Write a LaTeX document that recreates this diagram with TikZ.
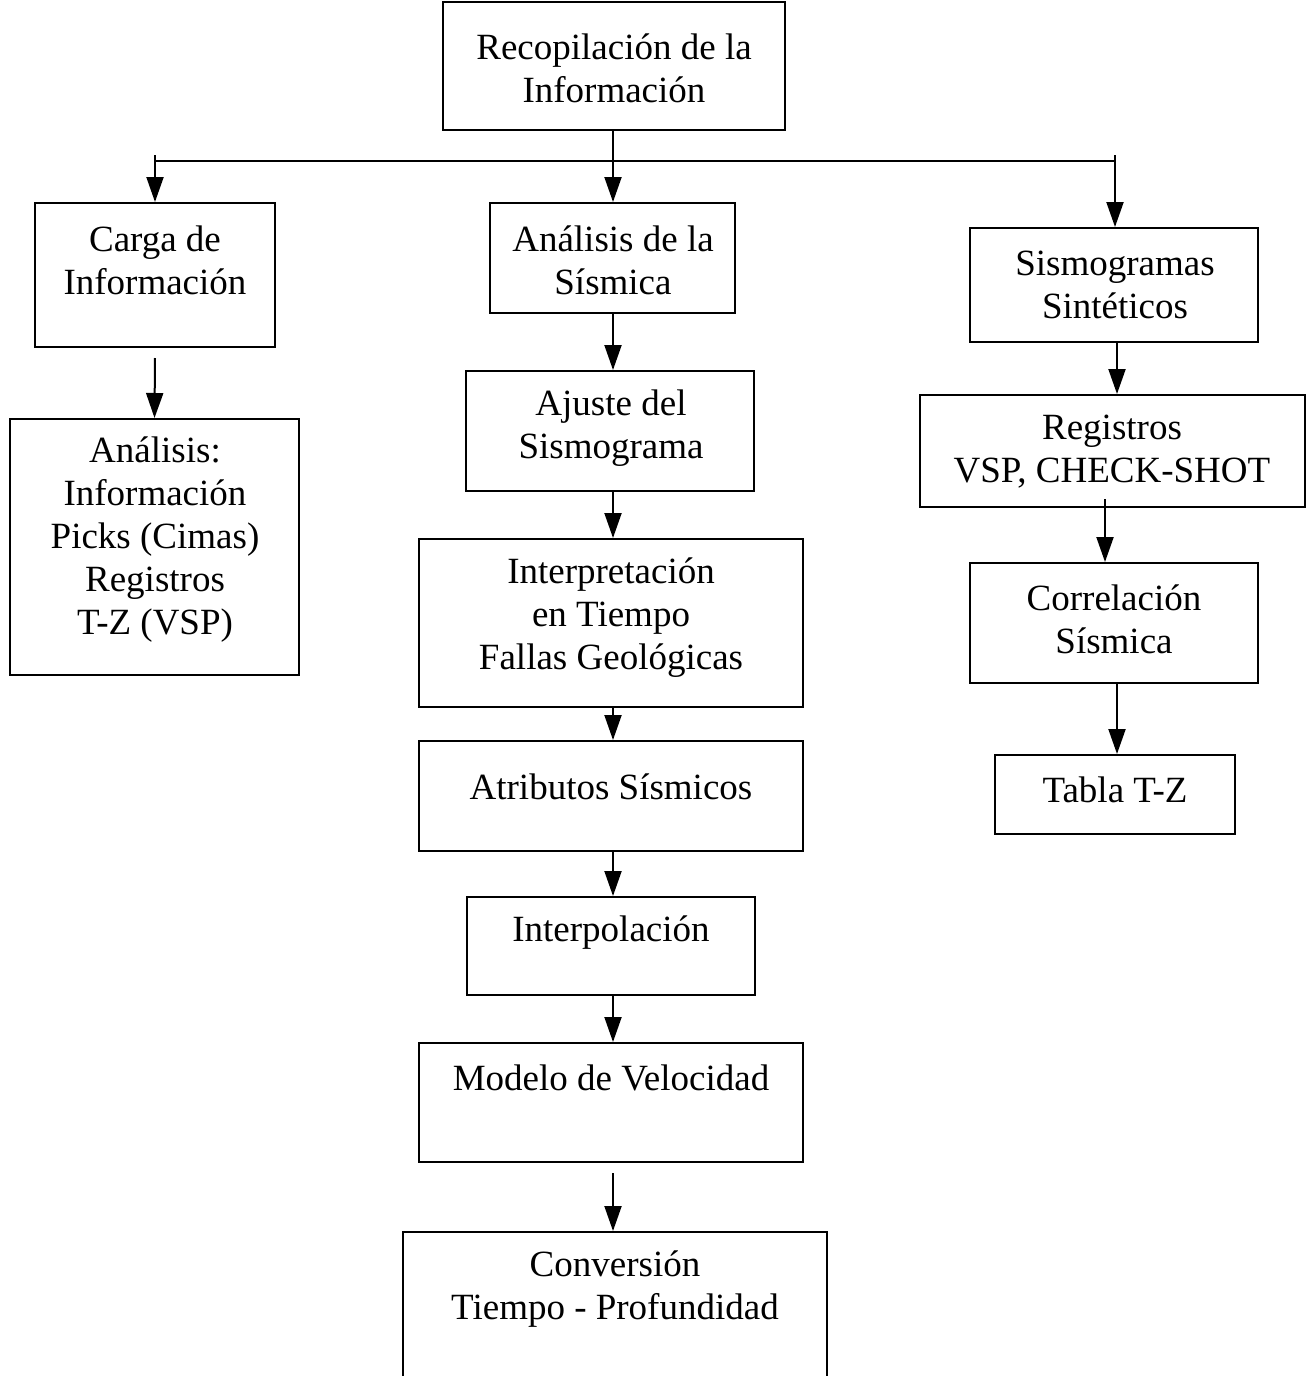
\documentclass[tikz,border=0pt]{standalone}
\usepackage{fontspec}
\setmainfont{Liberation Serif}
\usetikzlibrary{arrows.meta}
\begin{document}
\begin{tikzpicture}[x=0.5pt,y=-0.5pt,
  box/.style 2 args={draw, line width=1pt, inner sep=0pt,
    minimum width=#1*0.5pt, minimum height=#2*0.5pt},
  txt/.style={align=center, inner sep=0pt,
    font=\fontsize{18.5}{21.5}\selectfont},
  arr/.style={line width=1pt, -{Triangle[width=8.5pt,length=12.5pt]}},
  ln/.style={line width=1pt}]
\useasboundingbox (0,0) rectangle (1309,1376);

% boxes
\node[box={342}{128}] (top) at (614,66) {};
\node[box={240}{144}] (carga) at (155,275) {};
\node[box={245}{110}] (sis) at (612.5,258) {};
\node[box={288}{114}] (sint) at (1114,285) {};
\node[box={289}{256}] (anal) at (154.5,547) {};
\node[box={288}{120}] (ajuste) at (610,431) {};
\node[box={384}{168}] (interp) at (611,623) {};
\node[box={385}{112}] (reg) at (1112.5,451) {};
\node[box={288}{120}] (corr) at (1114,623) {};
\node[box={240}{79}] (tabla) at (1115,794.5) {};
\node[box={384}{110}] (atrib) at (611,796) {};
\node[box={288}{98}] (interpol) at (611,946) {};
\node[box={384}{119}] (modelo) at (611,1102.5) {};
\node[box={424}{148}] (conv) at (615,1306) {};

% texts
\node[txt] (top-t) at (614,68) {Recopilación de la\\Información};
\node[txt] (carga-t) at (155,260) {Carga de\\Información};
\node[txt] (sis-t) at (613,260) {Análisis de la\\Sísmica};
\node[txt] (sint-t) at (1115,285) {Sismogramas\\Sintéticos};
\node[txt] (anal-t) at (155,540) {Análisis:\\Información\\Picks (Cimas)\\Registros\\T-Z (VSP)};
\node[txt] (ajuste-t) at (611,428) {Ajuste del\\Sismograma};
\node[txt] (interp-t) at (611,618) {Interpretación\\en Tiempo\\Fallas Geológicas};
\node[txt] (reg-t) at (1112,452) {Registros\\VSP, CHECK-SHOT};
\node[txt] (corr-t) at (1114,619) {Correlación\\Sísmica};
\node[txt] (tabla-t) at (1115,790) {Tabla T-Z};
\node[txt] (atrib-t) at (611,787) {Atributos Sísmicos};
\node[txt] (interpol-t) at (611,933) {Interpolación};
\node[txt] (modelo-t) at (611,1078) {Modelo de Velocidad};
\node[txt] (conv-t) at (615,1289) {Conversión\\Tiempo - Profundidad};

% distribution bus
\coordinate (bl) at (155,155);
\coordinate (br) at (1115,155);
\coordinate (jl) at (155,161);
\coordinate (jr) at (1115,161);
\draw[ln] (jl) -- (jr);
\draw[arr] (bl) -- (bl |- carga.north);
\draw[arr] (br) -- (br |- sint.north);
\draw[arr] (top.south -| 613,0) -- (sis.north -| 613,0);

% left column
\draw[arr] ([yshift=-5pt]carga.south) -- (anal.north);

% middle column
\draw[arr] (sis.south -| 613,0) -- (ajuste.north -| 613,0);
\draw[arr] (ajuste.south -| 613,0) -- (interp.north -| 613,0);
\draw[arr] (interp.south -| 613,0) -- (atrib.north -| 613,0);
\draw[arr] (atrib.south -| 613,0) -- (interpol.north -| 613,0);
\draw[arr] (interpol.south -| 613,0) -- (modelo.north -| 613,0);
\draw[arr] ([yshift=-5pt]modelo.south -| 613,0) -- (conv.north -| 613,0);

% right column
\draw[arr] (sint.south -| 1117,0) -- (reg.north -| 1117,0);
\draw[arr] ([yshift=4.5pt]reg.south -| 1105,0) -- (corr.north -| 1105,0);
\draw[arr] (corr.south -| 1117,0) -- (tabla.north -| 1117,0);
\end{tikzpicture}
\end{document}
